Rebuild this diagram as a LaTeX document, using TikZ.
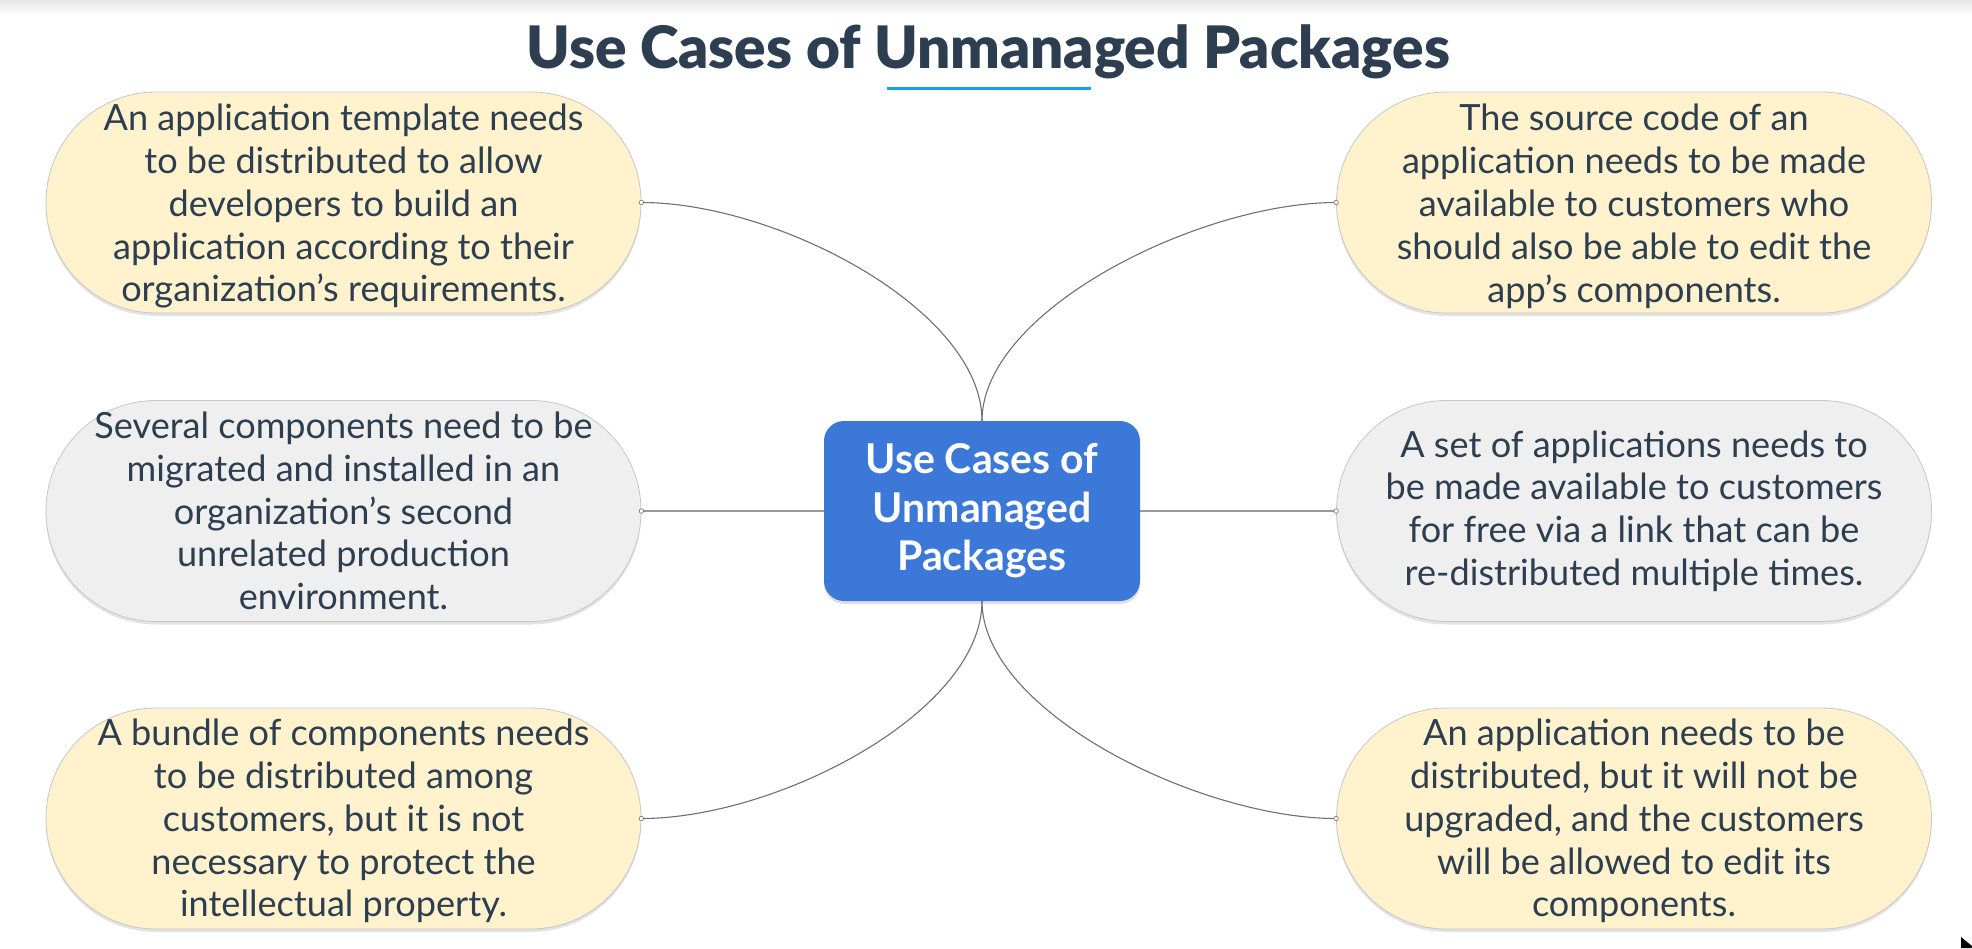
\documentclass[tikz,border=0pt]{standalone}
\usepackage{fontspec}
\setmainfont{Lato}
\newfontfamily\titlefont{Lato Black}
\usetikzlibrary{shadows}
\definecolor{txt}{HTML}{2C3E50}
\definecolor{cream}{HTML}{FFF2CC}
\definecolor{lgray}{HTML}{EFEFEF}
\definecolor{cblue}{HTML}{3C78D8}
\definecolor{uline}{HTML}{12A5DC}
\definecolor{conn}{HTML}{707070}
\newcommand\tstrut{\rule{0pt}{34.3pt}}
\newcommand\bstrut{\rule{0pt}{31.7pt}}
\begin{document}
\begin{tikzpicture}[x=1pt,y=-1pt,
  bubble/.style={rectangle, rounded corners=110pt, minimum width=595pt, minimum height=221pt,
    inner sep=0pt, align=center, text=txt, font=\fontsize{36.1}{42.8}\selectfont,
    draw=black!22, line width=0.8pt,
    drop shadow={shadow xshift=0pt, shadow yshift=-3pt, opacity=0.22}},
  hub/.style={rectangle, rounded corners=20pt, minimum width=316pt, minimum height=180pt,
    inner sep=0pt, align=center, fill=cblue, text=white,
    font=\bfseries\fontsize{41}{48.4}\selectfont,
    drop shadow={shadow xshift=0pt, shadow yshift=-3pt, opacity=0.25}},
  link/.style={draw=conn, line width=1.1pt},
  enddot/.style={circle, draw=conn, fill=white, line width=0.6pt, inner sep=0pt, minimum size=4.5pt}
]
\useasboundingbox (0,0) rectangle (1972,948);
\fill[white] (0,0) rectangle (1972,948);
\shade[top color=black!9, bottom color=white] (0,0) rectangle (1972,16);

% title
\node[anchor=base, text=txt, font=\titlefont\fontsize{58.5}{64}\selectfont, inner sep=0pt] (title) at (988,68) {Use Cases of Unmanaged Packages};
\coordinate (ulA) at (887,88);
\coordinate (ulB) at (1091,88);
\draw[uline, line width=3pt] (ulA) -- (ulB);

% hub
\node[hub] (c) at (982,511) {Use Cases of\\Unmanaged\\Packages};

% bubbles
\node[bubble, fill=cream] (tl) at (343.5,202.5) {\tstrut An application template needs\\to be distributed to allow\\developers to build an\\application according to their\\organization’s requirements.};
\node[bubble, fill=cream] (tr) at (1634,202.5) {\tstrut The source code of an\\application needs to be made\\available to customers who\\should also be able to edit the\\app’s components.};
\node[bubble, fill=lgray] (ml) at (343.5,511) {Several components need to be\\migrated and installed in an\\organization’s second\\unrelated production\\environment.};
\node[bubble, fill=lgray] (mr) at (1634,511) {A set of applications needs to\\be made available to customers\\for free via a link that can be\\re-distributed multiple times.};
\node[bubble, fill=cream] (bl) at (343.5,818.5) {\bstrut A bundle of components needs\\to be distributed among\\customers, but it is not\\necessary to protect the\\intellectual property.};
\node[bubble, fill=cream] (br) at (1634,818.5) {\bstrut An application needs to be\\distributed, but it will not be\\upgraded, and the customers\\will be allowed to edit its\\components.};

% connectors
\draw[link] (tl.east) .. controls +(136,0) and +(0,-111) .. (c.north);
\draw[link] (tr.west) .. controls +(-136,0) and +(0,-111) .. (c.north);
\draw[link] (bl.east) .. controls +(136,0) and +(0,111) .. (c.south);
\draw[link] (br.west) .. controls +(-136,0) and +(0,111) .. (c.south);
\draw[link, draw=black!40] (ml.east) -- (c.west);
\draw[link, draw=black!40] (mr.west) -- (c.east);

\node[enddot] (d1) at (tl.east) {};
\node[enddot] (d2) at (tr.west) {};
\node[enddot] (d3) at (ml.east) {};
\node[enddot] (d4) at (mr.west) {};
\node[enddot] (d5) at (bl.east) {};
\node[enddot] (d6) at (br.west) {};

% pointer arrow at the corner
\fill[black] (1961,937) -- (1972,946) -- (1972,948) -- (1961,948) -- cycle;
\end{tikzpicture}
\end{document}
